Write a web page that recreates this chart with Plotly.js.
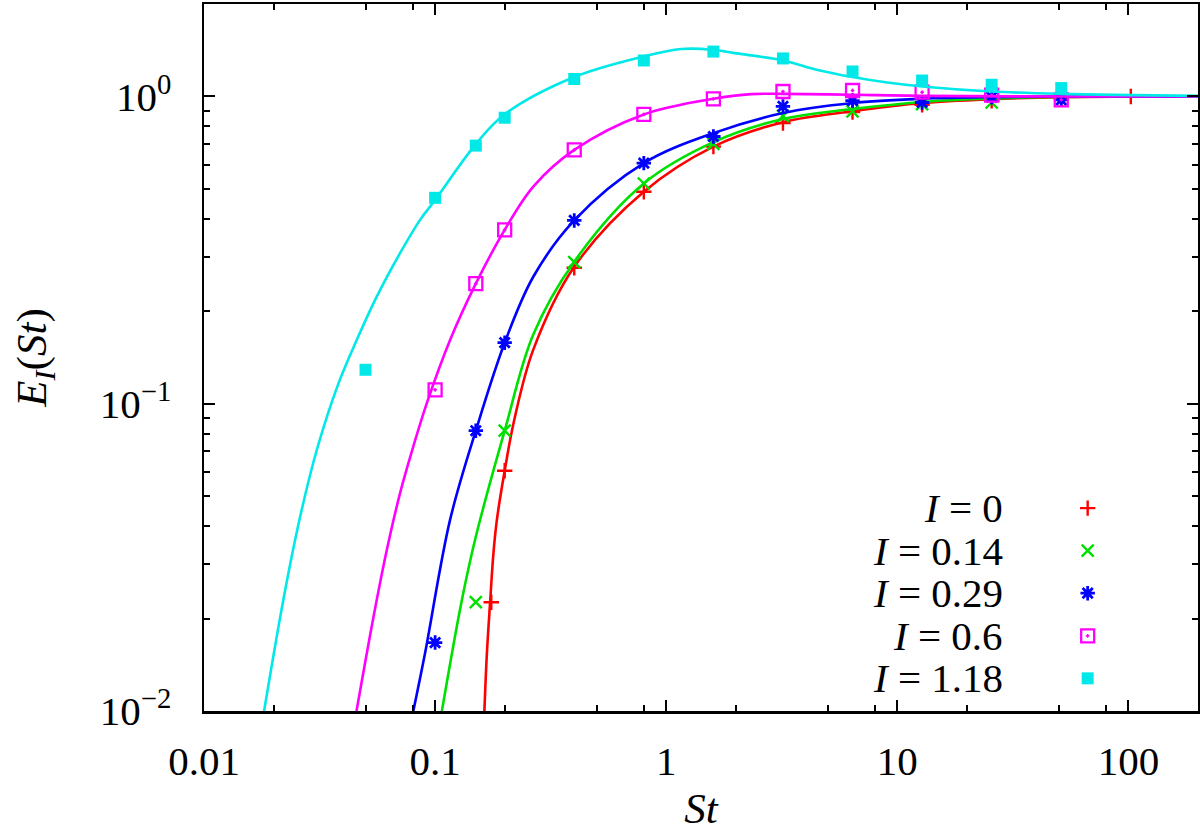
<!DOCTYPE html>
<html>
<head>
<meta charset="utf-8">
<script src="https://cdn.plot.ly/plotly-3.0.1.min.js"></script>
<style>html,body{margin:0;padding:0;background:#fff;}#chart{width:1200px;height:832px;}</style>
</head>
<body>
<div id="chart"></div>
<script>
// ---------- data ----------
// Measured points (St, E_I)
const stRed   = [0.175, 0.2, 0.4, 0.8, 1.6, 3.2, 6.4, 12.8, 25.6, 51.2, 102.4];
const eRed    = [0.0226, 0.0605, 0.277, 0.49, 0.687, 0.819, 0.89, 0.94, 0.968, 0.985, 1.0];
const stGreen = [0.15, 0.2, 0.4, 0.8, 1.6, 3.2, 6.4, 12.8, 25.6];
const eGreen  = [0.0226, 0.0817, 0.289, 0.521, 0.701, 0.865, 0.894, 0.945, 0.956];
const stBlue  = [0.1, 0.15, 0.2, 0.4, 0.8, 1.6, 3.2, 6.4, 12.8, 25.6, 51.2];
const eBlue   = [0.0167, 0.0817, 0.158, 0.395, 0.607, 0.741, 0.928, 0.970, 0.956, 0.995, 0.975];
const stMag   = [0.1, 0.15, 0.2, 0.4, 0.8, 1.6, 3.2, 6.4, 12.8, 25.6, 51.2];
const eMag    = [0.111, 0.246, 0.368, 0.670, 0.874, 0.983, 1.038, 1.046, 1.033, 1.01, 0.975];
const stCyan  = [0.05, 0.1, 0.15, 0.2, 0.4, 0.8, 1.6, 3.2, 6.4, 12.8, 25.6, 51.2];
const eCyan   = [0.129, 0.468, 0.692, 0.853, 1.14, 1.31, 1.40, 1.33, 1.206, 1.127, 1.092, 1.065];

// Model curves (St, E_I) sampled along the drawn lines
const cRedX   = [0.1634, 0.1675, 0.173, 0.1788, 0.185, 0.2, 0.22, 0.266, 0.4, 0.8, 1.6, 3.2, 6.4, 12.8, 25.6, 51.2, 200];
const cRedY   = [0.01, 0.01538, 0.0226, 0.0326, 0.0418, 0.0605, 0.0885, 0.150, 0.279, 0.49, 0.687, 0.825, 0.895, 0.952, 0.98, 0.995, 1.0];
const cGreenX = [0.107, 0.130, 0.15, 0.2, 0.266, 0.4, 0.8, 1.6, 3.2, 6.4, 12.8, 25.6, 51.2, 200];
const cGreenY = [0.01, 0.0226, 0.0369, 0.0817, 0.168, 0.29, 0.521, 0.71, 0.845, 0.91, 0.96, 0.985, 0.997, 1.0];
const cBlueX  = [0.0805, 0.0904, 0.116, 0.15, 0.2, 0.266, 0.4, 0.8, 1.6, 3.2, 6.4, 12.8, 25.6, 51.2, 200];
const cBlueY  = [0.01, 0.01538, 0.0418, 0.0817, 0.158, 0.259, 0.395, 0.607, 0.76, 0.883, 0.952, 0.983, 0.995, 1.0, 1.0];
const cMagX   = [0.0457, 0.0541, 0.0618, 0.0705, 0.0804, 0.092, 0.116, 0.15, 0.2, 0.266, 0.4, 0.8, 1.6, 2.33, 3.2, 6.4, 12.8, 51.2, 200];
const cMagY   = [0.0100, 0.0202, 0.0334, 0.0511, 0.0724, 0.1003, 0.161, 0.246, 0.368, 0.509, 0.67, 0.874, 0.983, 1.018, 1.02, 1.013, 1.005, 1.0, 1.0];
const cCyanX  = [0.0182, 0.02203, 0.02606, 0.03076, 0.03819, 0.0458, 0.0559, 0.0705, 0.0861, 0.1, 0.15, 0.2, 0.4, 0.8, 1.16, 1.6, 1.98, 3.2, 4.52, 6.4, 9.05, 12.8, 25.6, 51.2, 200];
const cCyanY  = [0.0100, 0.02295, 0.04285, 0.0707, 0.1165, 0.1612, 0.2231, 0.309, 0.3967, 0.4607, 0.70, 0.875, 1.157, 1.35, 1.427, 1.419, 1.384, 1.31, 1.22, 1.157, 1.11, 1.078, 1.038, 1.02, 1.005];

// Legend labels and tick labels
const seriesLabels = ['<i>I</i> = 0', '<i>I</i> = 0.14', '<i>I</i> = 0.29', '<i>I</i> = 0.6', '<i>I</i> = 1.18'];
const xTickVals = [0.01, 0.1, 1, 10, 100];
const xTickText = ['0.01', '0.1', '1', '10', '100'];
const yTickVals = [0.01, 0.1, 1];
const yTickText = ['10<sup>−2</sup>', '10<sup>−1</sup>', '10<sup>0</sup>'];
const xMinor = [0.02, 0.05, 0.08, 0.2, 0.5, 0.8, 2, 5, 8, 20, 50, 80];
const yMinor = [0.02,0.03,0.04,0.05,0.06,0.07,0.08,0.09,0.2,0.3,0.4,0.5,0.6,0.7,0.8,0.9];

// ---------- styles ----------
const FONT = 'Liberation Serif';
const colors = ['#ff0000', '#00e000', '#0000ff', '#ff00ff', '#00e8e8'];
const markers = [
  {symbol: 'cross-thin-open', size: 11, line: {width: 2.4, color: colors[0]}, color: colors[0]},
  {symbol: 'x-thin-open', size: 12, line: {width: 2.4, color: colors[1]}, color: colors[1]},
  {symbol: 'asterisk-open', size: 12, line: {width: 2.8, color: colors[2]}, color: colors[2]},
  {symbol: 'square-open-dot', size: 13, line: {width: 2.3, color: colors[3]}, color: colors[3]},
  {symbol: 'square', size: 12, line: {width: 0}, color: colors[4]}
];

const ptsX = [stRed, stGreen, stBlue, stMag, stCyan];
const ptsY = [eRed, eGreen, eBlue, eMag, eCyan];
const crvX = [cRedX, cGreenX, cBlueX, cMagX, cCyanX];
const crvY = [cRedY, cGreenY, cBlueY, cMagY, cCyanY];

const traces = [];
for (let i = 0; i < 5; i++) {
  traces.push({x: crvX[i], y: crvY[i], type: 'scatter', mode: 'lines',
    line: {color: colors[i], width: 2.6, shape: 'spline', smoothing: 1}, showlegend: false, hoverinfo: 'skip'});
  traces.push({x: ptsX[i], y: ptsY[i], type: 'scatter', mode: 'markers',
    marker: markers[i], showlegend: false});
}

// legend keys (drawn on an overlay axis spanning the plot area 0..1)
const legTop = 0.287, legStep = 0.0602, legSymX = 0.889, legTextX = 0.806;
const annotations = [];
for (let i = 0; i < 5; i++) {
  traces.push({x: [legSymX], y: [legTop - i * legStep], xaxis: 'x2', yaxis: 'y2', type: 'scatter',
    mode: 'markers', marker: markers[i], showlegend: false, hoverinfo: 'skip'});
  annotations.push({xref: 'paper', yref: 'paper', x: legTextX, y: legTop - i * legStep,
    xanchor: 'right', yanchor: 'middle', text: seriesLabels[i], showarrow: false,
    font: {family: FONT, size: 41, color: '#000'}});
}

const layout = {
  width: 1200, height: 832,
  margin: {l: 204, r: 2, t: 4, b: 121, pad: 0},
  paper_bgcolor: '#fff', plot_bgcolor: '#fff',
  font: {family: FONT, size: 41, color: '#000'},
  showlegend: false,
  xaxis: {
    type: 'log', range: [-2, Math.log10(200)],
    tickvals: xTickVals, ticktext: xTickText,
    ticks: 'inside', ticklen: 11, tickwidth: 2, tickcolor: '#000',
    minor: {tickvals: xMinor, ticks: 'inside', ticklen: 6, tickwidth: 2, tickcolor: '#000'},
    showline: true, linewidth: 2.5, linecolor: '#000', mirror: 'ticks',
    showgrid: false, zeroline: false,
    tickfont: {family: FONT, size: 41},
    ticklabelstandoff: 12,
    title: {text: '<i>St</i>', font: {family: FONT, size: 43}, standoff: 12}
  },
  yaxis: {
    type: 'log', range: [-2, Math.log10(2)],
    tickvals: yTickVals, ticktext: yTickText,
    ticks: 'inside', ticklen: 11, tickwidth: 2, tickcolor: '#000',
    minor: {tickvals: yMinor, ticks: 'inside', ticklen: 6, tickwidth: 2, tickcolor: '#000'},
    showline: true, linewidth: 2.5, linecolor: '#000', mirror: 'ticks',
    showgrid: false, zeroline: false,
    tickfont: {family: FONT, size: 41},
    ticklabelstandoff: 22,
    title: {text: '<i>E</i><sub><i>I</i></sub>(<i>St</i>)', font: {family: FONT, size: 43}, standoff: 40}
  },
  xaxis2: {overlaying: 'x', range: [0, 1], visible: false, fixedrange: true},
  yaxis2: {overlaying: 'y', range: [0, 1], visible: false, fixedrange: true},
  annotations: annotations
};

Plotly.newPlot('chart', traces, layout, {staticPlot: true, displayModeBar: false});
</script>
</body>
</html>
